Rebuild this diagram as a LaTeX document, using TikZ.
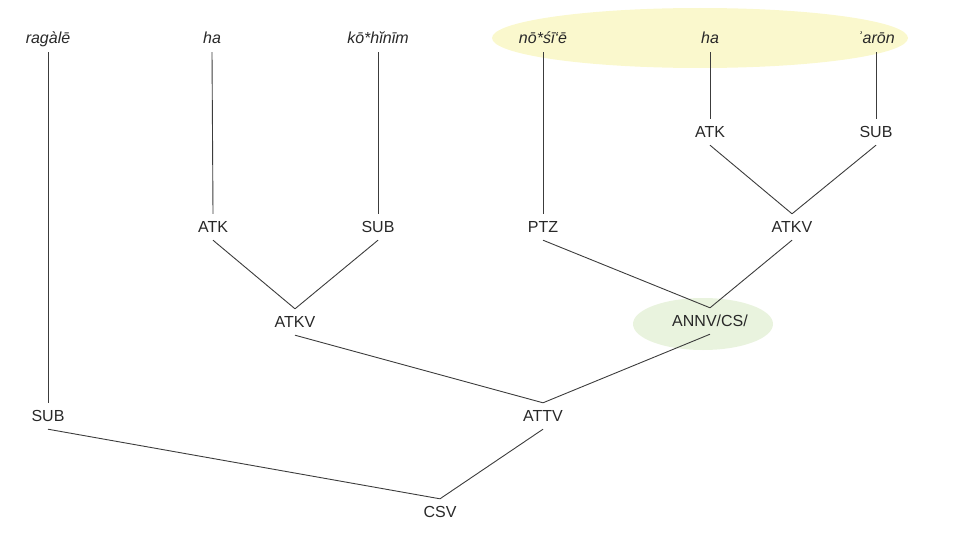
\documentclass[tikz,border=0pt]{standalone}
\usepackage{fontspec}
\setmainfont{Liberation Sans}
\newfontfamily\dvfont{DejaVu Sans}
\definecolor{hlyellow}{RGB}{250,248,205}
\definecolor{hlgreen}{RGB}{233,243,222}
\definecolor{linegray}{RGB}{60,60,60}
\definecolor{textgray}{RGB}{40,40,40}
\begin{document}
\begin{tikzpicture}[x=1pt,y=-1pt,
  every node/.style={font=\fontsize{16}{19}\selectfont, text=textgray, inner sep=0pt,
    minimum height=26pt, text height=11.5pt, text depth=0pt},
  leaf/.style={font=\fontsize{16}{19}\selectfont\itshape, minimum height=28pt},
  edge/.style={draw=linegray, line width=0.9pt}]
\useasboundingbox (0,0) rectangle (963,551);
% highlight ellipses
\fill[hlyellow] (700,38) ellipse [x radius=208, y radius=30];
\fill[hlgreen] (703,324) ellipse [x radius=70, y radius=26];
% leaves
\node[leaf] (w1) at (48,38) {ragàlē};
\node[leaf] (w2) at (212,38) {ha};
\node[leaf] (w3) at (378,38) {kō*hĭnīm};
\node[leaf] (w4) at (543,38) {nō*śī`ē};
\node[leaf] (w5) at (710,38) {ha};
\node[leaf] (w6) at (876,38) {ʾarōn};
% level 1
\node (atk2) at (710,132) {ATK};
\node (sub3) at (876,132) {SUB};
% level 2
\node (atk1) at (213,227) {ATK};
\node (sub2) at (378,227) {SUB};
\node (ptz) at (543,227) {PTZ};
\node (atkv2) at (792,227) {ATKV};
% level 3
\node (atkv1) at (295,322) {ATKV};
\node (annv) at (710,321) {ANNV/CS/};
% level 4
\node (sub1) at (48,416) {SUB};
\node (attv) at (543,416) {ATTV};
% root
\node (csv) at (440,512) {CSV};
% edges
\draw[edge] (w1.south) -- (sub1.north);
\draw[edge] (w2.south) -- (atk1.north);
\draw[edge] (w3.south) -- (sub2.north);
\draw[edge] (w4.south) -- (ptz.north);
\draw[edge] (w5.south) -- (atk2.north);
\draw[edge] (w6.south) -- (sub3.north);
\draw[edge] (atk2.south) -- (atkv2.north);
\draw[edge] (sub3.south) -- (atkv2.north);
\draw[edge] (atk1.south) -- (atkv1.north);
\draw[edge] (sub2.south) -- (atkv1.north);
\draw[edge] (ptz.south) -- (annv.north);
\draw[edge] (atkv2.south) -- (annv.north);
\draw[edge] (atkv1.south) -- (attv.north);
\draw[edge] (annv.south) -- (attv.north);
\draw[edge] (sub1.south) -- (csv.north);
\draw[edge] (attv.south) -- (csv.north);
\end{tikzpicture}
\end{document}
